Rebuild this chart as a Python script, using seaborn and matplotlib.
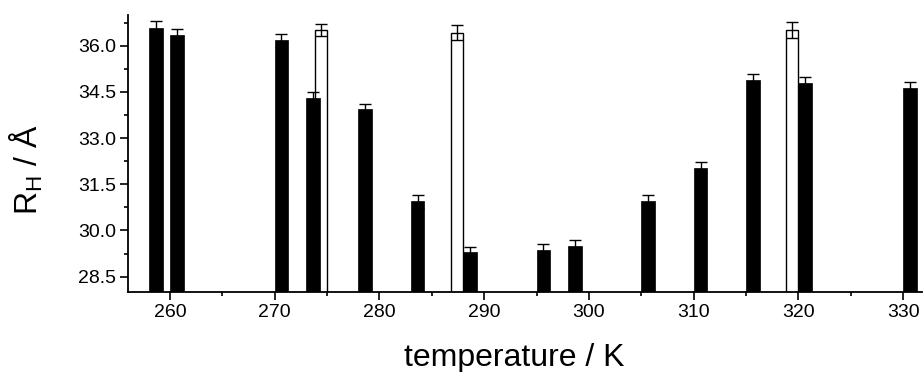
import numpy as np
import pandas as pd
import matplotlib
matplotlib.use("Agg")
import matplotlib.pyplot as plt
from matplotlib.ticker import MultipleLocator, FormatStrFormatter
import seaborn as sns

# black bars (left edge at the temperature)
t_black = [258, 260, 270, 273, 278, 283, 288, 295, 298, 305, 310, 315, 320, 330]
rh_black = [36.59, 36.35, 36.17, 34.30, 33.93, 30.94, 29.29, 29.35, 29.48,
            30.94, 32.04, 34.87, 34.80, 34.63]
err_black = [0.20, 0.18, 0.20, 0.21, 0.19, 0.20, 0.18, 0.20, 0.20,
             0.20, 0.19, 0.20, 0.18, 0.19]

# open bars (right edge at the temperature)
t_white = [275, 288, 320]
rh_white = [36.51, 36.42, 36.51]
err_white = [0.20, 0.25, 0.25]

w_black = 1.3
w_white = 1.15

sns.set_theme(style="ticks")
plt.rcParams['font.family'] = ['Liberation Sans', 'DejaVu Sans']
plt.rcParams['mathtext.fontset'] = 'custom'
plt.rcParams['mathtext.rm'] = 'Liberation Sans'
plt.rcParams['text.color'] = 'black'
plt.rcParams['axes.labelcolor'] = 'black'

fig = plt.figure(figsize=(9.23, 3.72), dpi=100)
ax = fig.add_axes([0.1387, 0.215, 0.8603, 0.745])

df_b = pd.DataFrame({"T": np.array(t_black) + w_black / 2, "RH": rh_black})
df_w = pd.DataFrame({"T": np.array(t_white) - w_white / 2, "RH": rh_white})

sp_b = np.diff(np.sort(df_b["T"].unique())).min()
sp_w = np.diff(np.sort(df_w["T"].unique())).min()

# open bars first so the filled ones sit on top where they overlap
sns.barplot(data=df_w, x="T", y="RH", native_scale=True, errorbar=None,
            width=w_white / sp_w, color="white", saturation=1,
            edgecolor="black", linewidth=1.0, ax=ax)
sns.barplot(data=df_b, x="T", y="RH", native_scale=True, errorbar=None,
            width=w_black / sp_b, color="black", saturation=1,
            edgecolor="black", linewidth=0.5, ax=ax)

ax.errorbar(df_b["T"], df_b["RH"], yerr=err_black, fmt="none", ecolor="black",
            elinewidth=1.0, capsize=4, capthick=1.0, zorder=5)
ax.errorbar(df_w["T"], df_w["RH"], yerr=err_white, fmt="none", ecolor="black",
            elinewidth=1.0, capsize=4, capthick=1.0, zorder=5)

ax.set_xlim(256, 331.8)
ax.set_ylim(28.0, 37.0)
ax.xaxis.set_major_locator(MultipleLocator(10))
ax.xaxis.set_minor_locator(MultipleLocator(5))
ax.yaxis.set_major_locator(MultipleLocator(1.5))
ax.yaxis.set_minor_locator(MultipleLocator(0.75))
ax.yaxis.set_major_formatter(FormatStrFormatter("%.1f"))

ax.tick_params(axis="both", which="major", direction="out", length=5.5, width=1.2,
               labelsize=14, colors="black", pad=3)
ax.tick_params(axis="both", which="minor", direction="out", length=3, width=1.2,
               colors="black")

for s in ["top", "right"]:
    ax.spines[s].set_visible(False)
for s in ["left", "bottom"]:
    ax.spines[s].set_linewidth(1.3)
    ax.spines[s].set_color("black")

ax.set_xlabel("temperature / K", fontsize=23)
ax.set_ylabel(r"R$_\mathregular{H}$ / Å", fontsize=23)
ax.xaxis.set_label_coords(0.487, -0.185)
ax.yaxis.set_label_coords(-0.105, 0.44)

fig.savefig("out.png", dpi=100)
